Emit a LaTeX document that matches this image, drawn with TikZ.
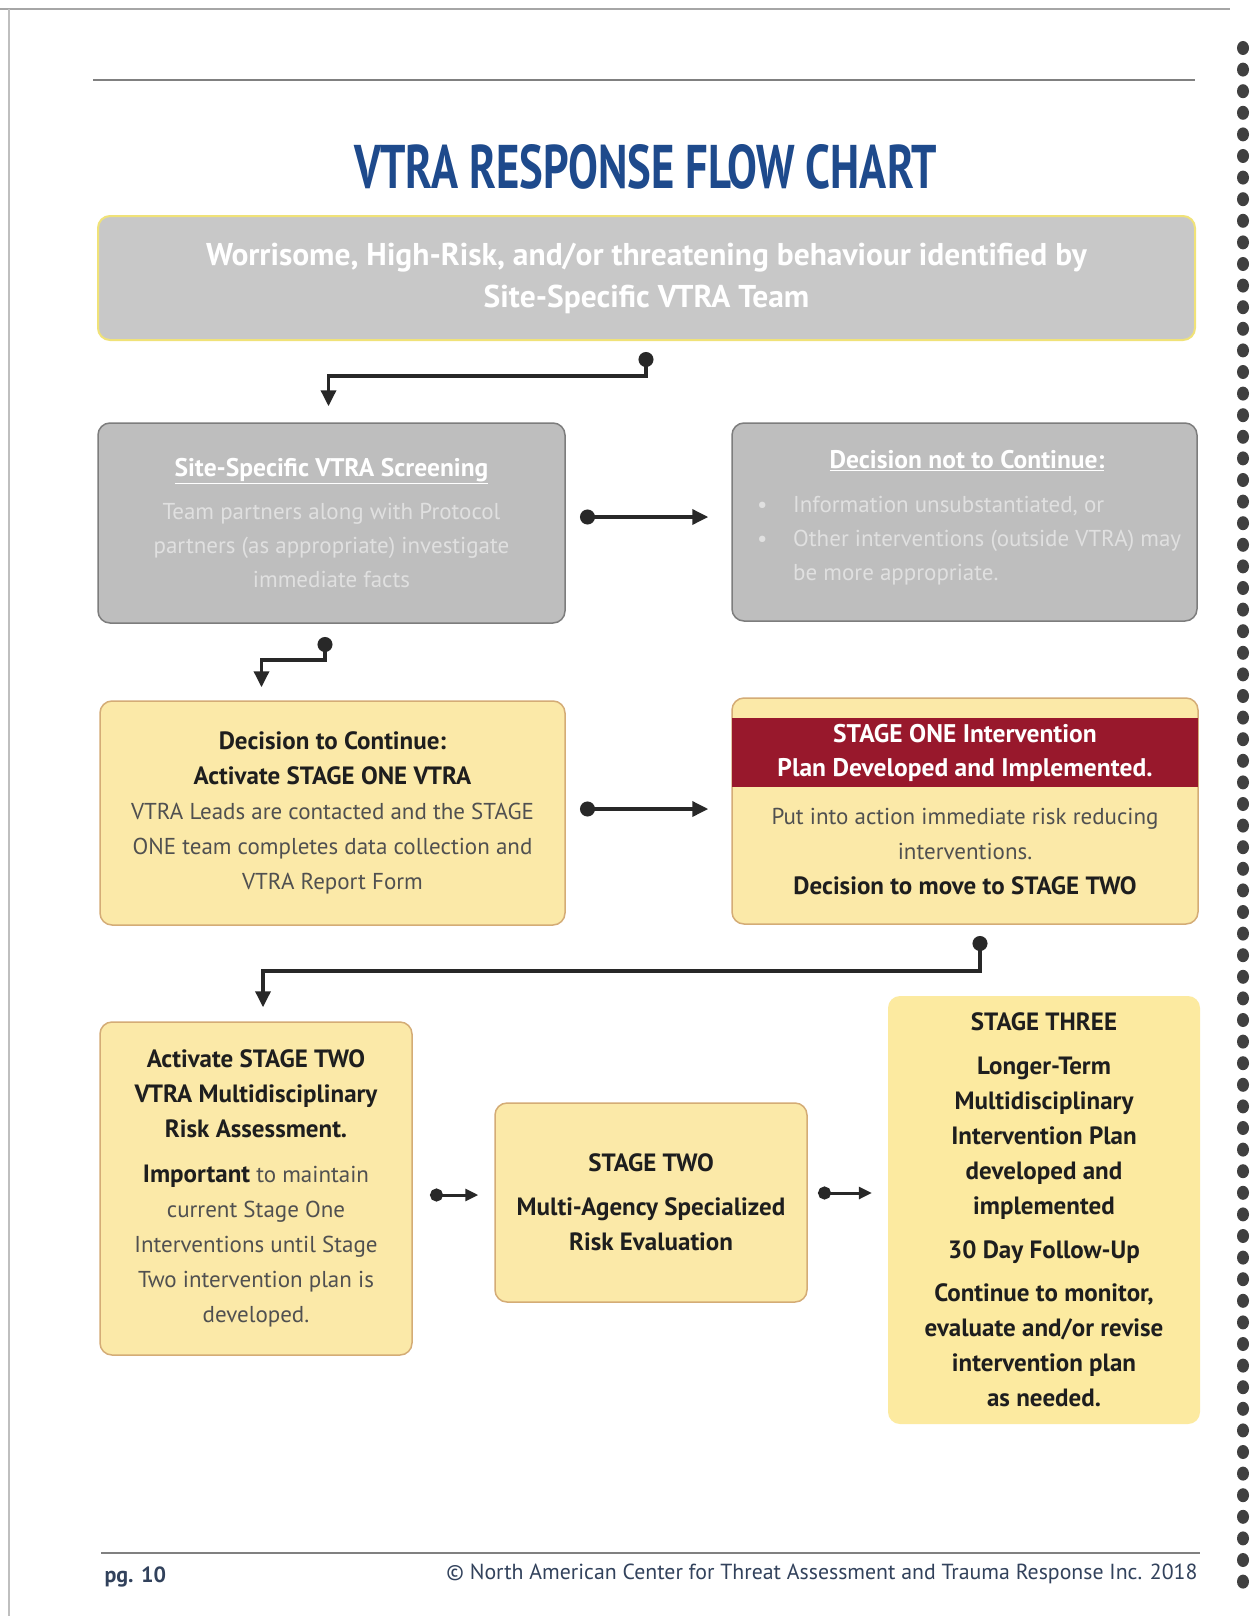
\documentclass[tikz,border=0pt]{standalone}
\usepackage{fontspec}
\usepackage{graphicx}
\usepackage{xcolor}
\setmainfont{PT Sans}
\usetikzlibrary{arrows.meta,calc,positioning}

\definecolor{titleblue}{RGB}{30,74,140}
\definecolor{topgray}{RGB}{200,200,200}
\definecolor{topedge}{RGB}{240,226,120}
\definecolor{boxgray}{RGB}{190,190,190}
\definecolor{edgegray}{RGB}{125,125,125}
\definecolor{faintwhite}{RGB}{224,224,224}
\definecolor{paleyellow}{RGB}{251,233,168}
\definecolor{brightyellow}{RGB}{252,234,160}
\definecolor{tanedge}{RGB}{212,172,118}
\definecolor{stagered}{RGB}{152,24,44}
\definecolor{linkgray}{RGB}{40,40,40}
\definecolor{bodytext}{RGB}{80,80,80}
\definecolor{boldtext}{RGB}{30,30,30}
\definecolor{footblue}{RGB}{50,66,92}

\newcommand{\boldline}[1]{{\fontsize{25}{35}\selectfont\bfseries\color{boldtext}#1}}

\begin{document}
\begin{tikzpicture}[x=1pt,y=-1pt,
    graybox/.style={draw=edgegray,fill=boxgray,rounded corners=12pt,line width=1.5pt,inner sep=0pt},
    yellowbox/.style={draw=tanedge,fill=paleyellow,rounded corners=12pt,line width=1.5pt,inner sep=0pt},
    body/.style={align=center,font=\fontsize{23}{35}\selectfont,text=bodytext},
    faint/.style={font=\fontsize{23}{34}\selectfont,text=faintwhite},
    link/.style={draw=linkgray,line width=3.5pt,{Circle[length=15pt,width=15pt]}-{Triangle[length=16pt,width=15pt]}},
    shortlink/.style={draw=linkgray,line width=3pt,{Circle[length=13pt,width=13pt]}-{Triangle[length=13pt,width=12pt]}}]

\useasboundingbox (0,0) rectangle (1251,1616);
\fill[white] (0,0) rectangle (1251,1616);

% page edges and binding
\draw[gray!70,line width=1.5pt] (0,9) -- (1230,9);
\draw[gray!50,line width=1.5pt] (9,9) -- (9,1616);
\foreach \i in {0,...,71}
  \fill[black!75] (1243,{48+21.6*\i}) ellipse (6 and 7);

% rules, title, footer
\draw[gray,line width=1.2pt] (93,80) -- (1195,80);
\draw[gray,line width=1.2pt] (101,1553) -- (1200,1553);
\node[text=titleblue] (title) at (646,167) {\resizebox{582pt}{44pt}{\bfseries VTRA RESPONSE FLOW CHART}};
\node[anchor=base west,text=footblue,font=\fontsize{22}{24}\selectfont\bfseries] (page) at (101,1582) {pg. 10};
\node[anchor=base east,text=footblue,font=\fontsize{21.8}{24}\selectfont] (copy) at (1201,1579) {\textcopyright\ North American Center for Threat Assessment and Trauma Response Inc. 2018};

% boxes
\node[draw=topedge,fill=topgray,rounded corners=12pt,line width=2pt,minimum width=1097pt,minimum height=124pt,
  align=center,text=white,font=\fontsize{31.5}{42}\selectfont\bfseries] (top) at (646.5,278)
  {Worrisome, High-Risk, and/or threatening behaviour identified by\\Site-Specific VTRA Team};

\node[graybox,faint,align=center,minimum width=467pt,minimum height=200pt] (screen) at (331.5,523)
  {{\fontsize{25.5}{34}\selectfont\bfseries\color{white}\underline{Site-Specific VTRA Screening}}\\[9pt]
   Team partners along with Protocol\\partners (as appropriate) investigate\\immediate facts};

\node[graybox,minimum width=465pt,minimum height=198pt] (notc) at (964.5,522) {};
\node[font=\fontsize{25.5}{34}\selectfont\bfseries,text=white] (notct) at (967,461) {\underline{Decision not to Continue:}};
\node[faint,anchor=north west,inner sep=0pt] (notcb) at (757,488)
  {\begin{tabular}{@{}p{36pt}@{}l@{}}
   \textbullet & Information unsubstantiated, or\\
   \textbullet & Other interventions (outside VTRA) may\\
   & be more appropriate.
   \end{tabular}};

\node[yellowbox,body,minimum width=465pt,minimum height=224pt] (dec) at (332.5,813)
  {\boldline{Decision to Continue:}\\\boldline{Activate STAGE ONE VTRA}\\
   VTRA Leads are contacted and the STAGE\\ONE team completes data collection and\\VTRA Report Form};

\node[yellowbox,minimum width=466pt,minimum height=226pt] (stage1) at (965,811) {};
\node[fill=stagered,minimum width=466pt,minimum height=69pt,inner sep=0pt,align=center,
  text=white,font=\fontsize{25.5}{34}\selectfont\bfseries] (band) at (965,752.5)
  {STAGE ONE Intervention\\Plan Developed and Implemented.};
\node[body] (s1body) at (965,852)
  {Put into action immediate risk reducing\\interventions.\\\boldline{Decision to move to STAGE TWO}};

\node[yellowbox,body,minimum width=312pt,minimum height=333pt] (act2) at (256,1188.5)
  {\boldline{Activate STAGE TWO}\\\boldline{VTRA Multidisciplinary}\\\boldline{Risk Assessment.}\\[10pt]
   \boldline{Important} to maintain\\current Stage One\\Interventions until Stage\\Two intervention plan is\\developed.};

\node[yellowbox,body,minimum width=312pt,minimum height=199pt] (stage2) at (651,1202.5)
  {\boldline{STAGE TWO}\\[9pt]\boldline{Multi-Agency Specialized}\\\boldline{Risk Evaluation}};

\node[fill=brightyellow,rounded corners=12pt,inner sep=0pt,body,minimum width=312pt,minimum height=428pt] (stage3) at (1044,1210)
  {\boldline{STAGE THREE}\\[9pt]\boldline{Longer-Term}\\\boldline{Multidisciplinary}\\\boldline{Intervention Plan}\\
   \boldline{developed and}\\\boldline{implemented}\\[9pt]\boldline{30 Day Follow-Up}\\[8pt]
   \boldline{Continue to monitor,}\\\boldline{evaluate and/or revise}\\\boldline{intervention plan}\\\boldline{as needed.}};

% connectors
\coordinate (d1) at (646,352);
\coordinate (d2) at (325,637);
\coordinate (d3) at (980,936);
\coordinate (a1) at (580,517);
\coordinate (a2) at (580,809);
\coordinate (a3) at (430,1195);
\coordinate (a4) at (818,1193);

\draw[link] (d1) -- ++(0,24) -| ([xshift=-3pt,yshift=16pt]screen.north);
\draw[link] (d2) -- ++(0,23) -| ([xshift=-71pt,yshift=13pt]dec.north);
\draw[link] (d3) -- ++(0,35) -| ([xshift=7pt,yshift=14pt]act2.north);
\draw[link] (a1) -- ($(a1 -| notc.west)+(-23,0)$);
\draw[link] (a2) -- ($(a2 -| stage1.west)+(-23,0)$);
\draw[shortlink] (a3) -- ($(a3 -| stage2.west)+(-16,0)$);
\draw[shortlink] (a4) -- ($(a4 -| stage3.west)+(-16,0)$);
\end{tikzpicture}
\end{document}
